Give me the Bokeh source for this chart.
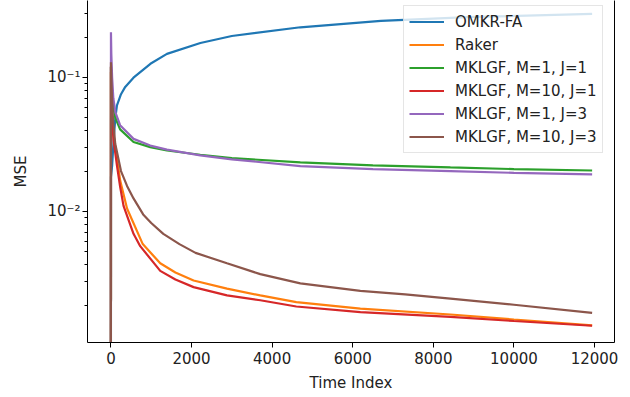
from bokeh.plotting import figure
from bokeh.models import Range1d, FixedTicker, LogAxis, Legend, LegendItem
from bokeh.embed import file_html
from bokeh.resources import INLINE

# ---- data ----
omkr_x = [0, 1, 30, 70, 110, 150, 250, 355, 560, 980, 1390, 2220, 3000, 4700, 6700, 9000, 11940]
omkr_y = [1e-6, 0.018, 0.022, 0.035, 0.050, 0.062, 0.075, 0.085, 0.0996, 0.1265, 0.150, 0.181,
          0.204, 0.237, 0.265, 0.283, 0.298]

raker_x = [0, 1, 20, 60, 150, 230, 400, 790, 1224, 1600, 2051, 2880, 3706, 4600, 6189, 8424, 10000, 11940]
raker_y = [1e-6, 0.11, 0.060, 0.038, 0.025, 0.017, 0.0105, 0.0057, 0.0041, 0.0035, 0.00305, 0.00265,
           0.00236, 0.0021, 0.00188, 0.0017, 0.00156, 0.00141]

m1j1_x = [0, 1, 20, 60, 110, 228, 561, 976, 1390, 2217, 3000, 4700, 6500, 8424, 10000, 11940]
m1j1_y = [1e-6, 0.12, 0.075, 0.060, 0.050, 0.041, 0.033, 0.0302, 0.0285, 0.0265, 0.025, 0.0232,
          0.0221, 0.0213, 0.0207, 0.0202]

m10j1_x = [0, 1, 20, 65, 150, 230, 313, 561, 727, 1224, 1600, 2051, 2880, 3706, 4600, 6189, 8424, 10000, 11940]
m10j1_y = [1e-6, 0.12, 0.055, 0.034, 0.022, 0.0152, 0.011, 0.0068, 0.0055, 0.0036, 0.0031, 0.00272,
           0.00236, 0.00217, 0.00195, 0.00177, 0.00163, 0.00152, 0.00140]

m1j3_x = [0, 1, 10, 30, 60, 110, 228, 561, 976, 1390, 2217, 3000, 4700, 6500, 8424, 10000, 11940]
m1j3_y = [1e-6, 0.218, 0.15, 0.10, 0.070, 0.055, 0.044, 0.0348, 0.031, 0.0289, 0.0262, 0.0245,
          0.0218, 0.0207, 0.0200, 0.0194, 0.0189]

m10j3_x = [0, 1, 20, 50, 107, 250, 400, 561, 800, 1000, 1300, 1700, 2100, 2880, 3706, 4700, 6189,
           7300, 8424, 10000, 11940]
m10j3_y = [1e-6, 0.13, 0.08, 0.05, 0.032, 0.020, 0.0155, 0.0125, 0.0095, 0.0082, 0.0068, 0.0057,
           0.0049, 0.0041, 0.0034, 0.0029, 0.00255, 0.0024, 0.00223, 0.00201, 0.00175]

series_names = ["OMKR-FA", "Raker", "MKLGF, M=1, J=1", "MKLGF, M=10, J=1",
                "MKLGF, M=1, J=3", "MKLGF, M=10, J=3"]
series_colors = ["#1f77b4", "#ff7f0e", "#2ca02c", "#d62728", "#9467bd", "#8c564b"]

x_ticks = [0, 2000, 4000, 6000, 8000, 10000, 12000]
y_ticks = [0.01, 0.1]
y_tick_labels = ["10⁻²", "10⁻¹"]
y_minor_ticks = [0.002, 0.003, 0.004, 0.005, 0.006, 0.007, 0.008, 0.009,
                 0.02, 0.03, 0.04, 0.05, 0.06, 0.07, 0.08, 0.09, 0.2, 0.3]

FONT = "DejaVu Sans"
FS = "15px"

p = figure(width=630, height=397, y_axis_type="log",
           x_range=Range1d(-581, 12495), y_range=Range1d(0.00105, 0.3756),
           output_backend="svg", toolbar_location=None,
           min_border_left=87, min_border_right=16, min_border_top=0, min_border_bottom=55)
p.outline_line_color = None
p.xgrid.grid_line_color = None
p.ygrid.grid_line_color = None

xs = [omkr_x, raker_x, m1j1_x, m10j1_x, m1j3_x, m10j3_x]
ys = [omkr_y, raker_y, m1j1_y, m10j1_y, m1j3_y, m10j3_y]
items = []
for x, y, name, col in zip(xs, ys, series_names, series_colors):
    r = p.line(x, y, line_color=col, line_width=2.2)
    items.append(LegendItem(label=name, renderers=[r]))

# axes
xa = p.xaxis[0]
xa.ticker = FixedTicker(ticks=x_ticks)
xa.axis_label = "Time Index"
ya = p.yaxis[0]
ya.ticker = FixedTicker(ticks=y_ticks, minor_ticks=y_minor_ticks)
ya.major_label_overrides = {t: l for t, l in zip(y_ticks, y_tick_labels)}
ya.axis_label = "MSE"
for ax in (xa, ya):
    ax.axis_line_color = "black"
    ax.axis_line_width = 1
    ax.major_tick_line_color = "black"
    ax.major_tick_in = 0
    ax.major_tick_out = 5
    ax.minor_tick_in = 0
    ax.minor_tick_out = 3
    ax.minor_tick_line_color = "black"
    ax.major_label_text_font = FONT
    ax.major_label_text_font_size = FS
    ax.major_label_text_color = "#222222"
    ax.axis_label_text_font = FONT
    ax.axis_label_text_font_size = FS
    ax.axis_label_text_font_style = "normal"
    ax.axis_label_text_color = "#222222"
xa.minor_tick_line_color = None
xa.major_label_standoff = 4
xa.axis_label_standoff = 7
ya.major_label_standoff = 2
ya.axis_label_standoff = 14

# right border line (no top border in the reference crop)
rax = LogAxis(ticker=FixedTicker(ticks=[]), major_tick_out=0, minor_tick_out=0,
              major_tick_in=0, minor_tick_in=0, major_label_standoff=0,
              major_label_text_font_size="0px", axis_line_color="black")
p.add_layout(rax, "right")

legend = Legend(items=items, location=(316, 189),
                label_text_font=FONT, label_text_font_size=FS, label_text_color="#222222",
                glyph_width=35, glyph_height=21, label_height=21, spacing=2,
                label_standoff=11, padding=5, margin=0,
                border_line_color="#cccccc", border_line_width=1,
                background_fill_color="white", background_fill_alpha=0.8)
p.add_layout(legend)

open("out.html", "w").write(file_html(p, INLINE))
